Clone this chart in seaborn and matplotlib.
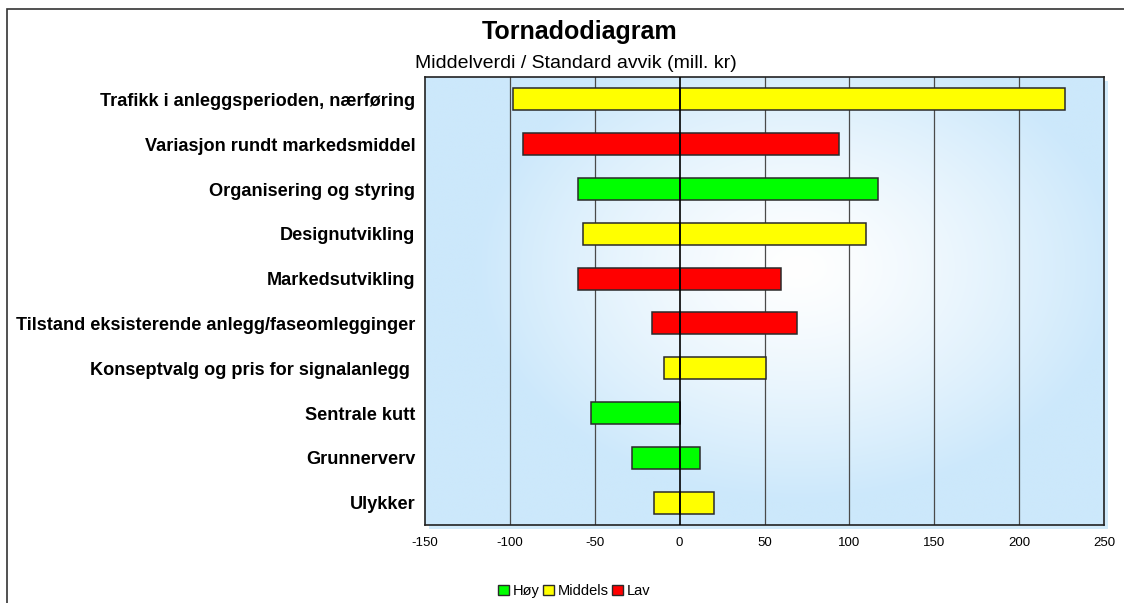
import numpy as np
import matplotlib
matplotlib.use("Agg")
import matplotlib.pyplot as plt
import seaborn as sns
import pandas as pd
from matplotlib.patches import Patch, Rectangle

# Risk factors, ordered from largest to smallest spread
categories = [
    "Trafikk i anleggsperioden, nærføring",
    "Variasjon rundt markedsmiddel",
    "Organisering og styring",
    "Designutvikling",
    "Markedsutvikling",
    "Tilstand eksisterende anlegg/faseomlegginger",
    "Konseptvalg og pris for signalanlegg ",
    "Sentrale kutt",
    "Grunnerverv",
    "Ulykker",
]
low_values = [-98, -92, -60, -57, -60, -16, -9, -52, -28, -15]
high_values = [227, 94, 117, 110, 60, 69, 51, 0, 12, 20]
levels = ["Middels", "Lav", "Høy", "Middels", "Lav", "Lav", "Middels", "Høy", "Høy", "Middels"]
level_order = ["Høy", "Middels", "Lav"]
level_colors = {"Høy": "#00ff00", "Middels": "#ffff00", "Lav": "#ff0000"}
x_ticks = [-150, -100, -50, 0, 50, 100, 150, 200, 250]

sns.set_theme(style="white")
plt.rcParams["font.family"] = ["Liberation Sans", "DejaVu Sans"]
plt.rcParams["text.color"] = "black"
plt.rcParams["xtick.color"] = "black"
plt.rcParams["ytick.color"] = "black"

W, H = 1124, 603
fig = plt.figure(figsize=(W / 100, H / 100), dpi=100)
fig.patch.set_facecolor("white")

ax_l, ax_r, ax_t, ax_b = 425, 1104, 77, 525
ax = fig.add_axes([ax_l / W, 1 - ax_b / H, (ax_r - ax_l) / W, (ax_b - ax_t) / H])

# soft drop shadow behind the plot area
fig.add_artist(Rectangle(((ax_l + 4) / W, 1 - (ax_b + 4) / H), (ax_r - ax_l) / W, (ax_b - ax_t) / H,
                         transform=fig.transFigure, facecolor="#d2ebfb", edgecolor="none", zorder=-1))

df = pd.DataFrame({"kategori": categories, "lav": low_values, "hoy": high_values, "niva": levels})

# each tornado bar is drawn as a negative part and a positive part meeting at zero
for col in ["lav", "hoy"]:
    sns.barplot(data=df, x=col, y="kategori", hue="niva", hue_order=level_order,
                palette=level_colors, saturation=1, orient="h", width=0.49, dodge=False,
                edgecolor="#2a2a2a", linewidth=1.1, legend=False, ax=ax, zorder=3)

ax.set_xlim(-150, 250)
ax.set_ylim(len(categories) - 0.5, -0.5)

# radial light-blue background
gx = np.linspace(-1, 1, 400)
gy = np.linspace(-1, 1, 300)
GX, GY = np.meshgrid(gx, gy)
r = np.sqrt(((GX - 0.1) / 1.0) ** 2 + ((GY + 0.15) / 1.1) ** 2)
r = np.clip(r / 0.95, 0, 1) ** 1.3
c_in = np.array([1.0, 1.0, 1.0])
c_out = np.array([0xcc, 0xe8, 0xfb]) / 255
img = c_in[None, None, :] * (1 - r[..., None]) + c_out[None, None, :] * r[..., None]
ax.imshow(img, extent=[-150, 250, len(categories) - 0.5, -0.5], aspect="auto", zorder=0, interpolation="bilinear")

for xv in x_ticks[1:-1]:
    if xv == 0:
        continue
    ax.axvline(xv, color="#4a4a4a", lw=0.9, zorder=1)
ax.axvline(0, color="black", lw=1.2, zorder=4)

ax.set_xticks(x_ticks)
ax.set_xticklabels([str(v) for v in x_ticks], fontsize=9.5)
ax.tick_params(axis="x", length=0, pad=9)
ax.tick_params(axis="y", length=0, pad=7)
for lbl in ax.get_yticklabels():
    lbl.set_fontweight("bold")
    lbl.set_fontsize(13.1)
    lbl.set_color("black")
ax.set_xlabel("")
ax.set_ylabel("")
for s in ax.spines.values():
    s.set_visible(True)
    s.set_color("#222222")
    s.set_linewidth(1.2)

fig.text(580 / W, 1 - 32 / H, "Tornadodiagram", ha="center", va="center", fontsize=18, fontweight="bold")
fig.text(576 / W, 1 - 63 / H, "Middelverdi / Standard avvik (mill. kr)", ha="center", va="center", fontsize=14)

# outer frame
fig.add_artist(Rectangle((7 / W, -0.1), 1.2, (1 - 9 / H) + 0.1, transform=fig.transFigure,
                         fill=False, edgecolor="#333333", lw=1.2))

handles = [Patch(facecolor=level_colors[k], edgecolor="#2a2a2a", label=k) for k in level_order]
fig.legend(handles=handles, loc="center", bbox_to_anchor=(574 / W, 1 - 591 / H), ncol=3, frameon=False,
           fontsize=10.5, handlelength=0.75, handleheight=0.75,
           handletextpad=0.25, columnspacing=0.25)

fig.savefig("out.png", dpi=100)
